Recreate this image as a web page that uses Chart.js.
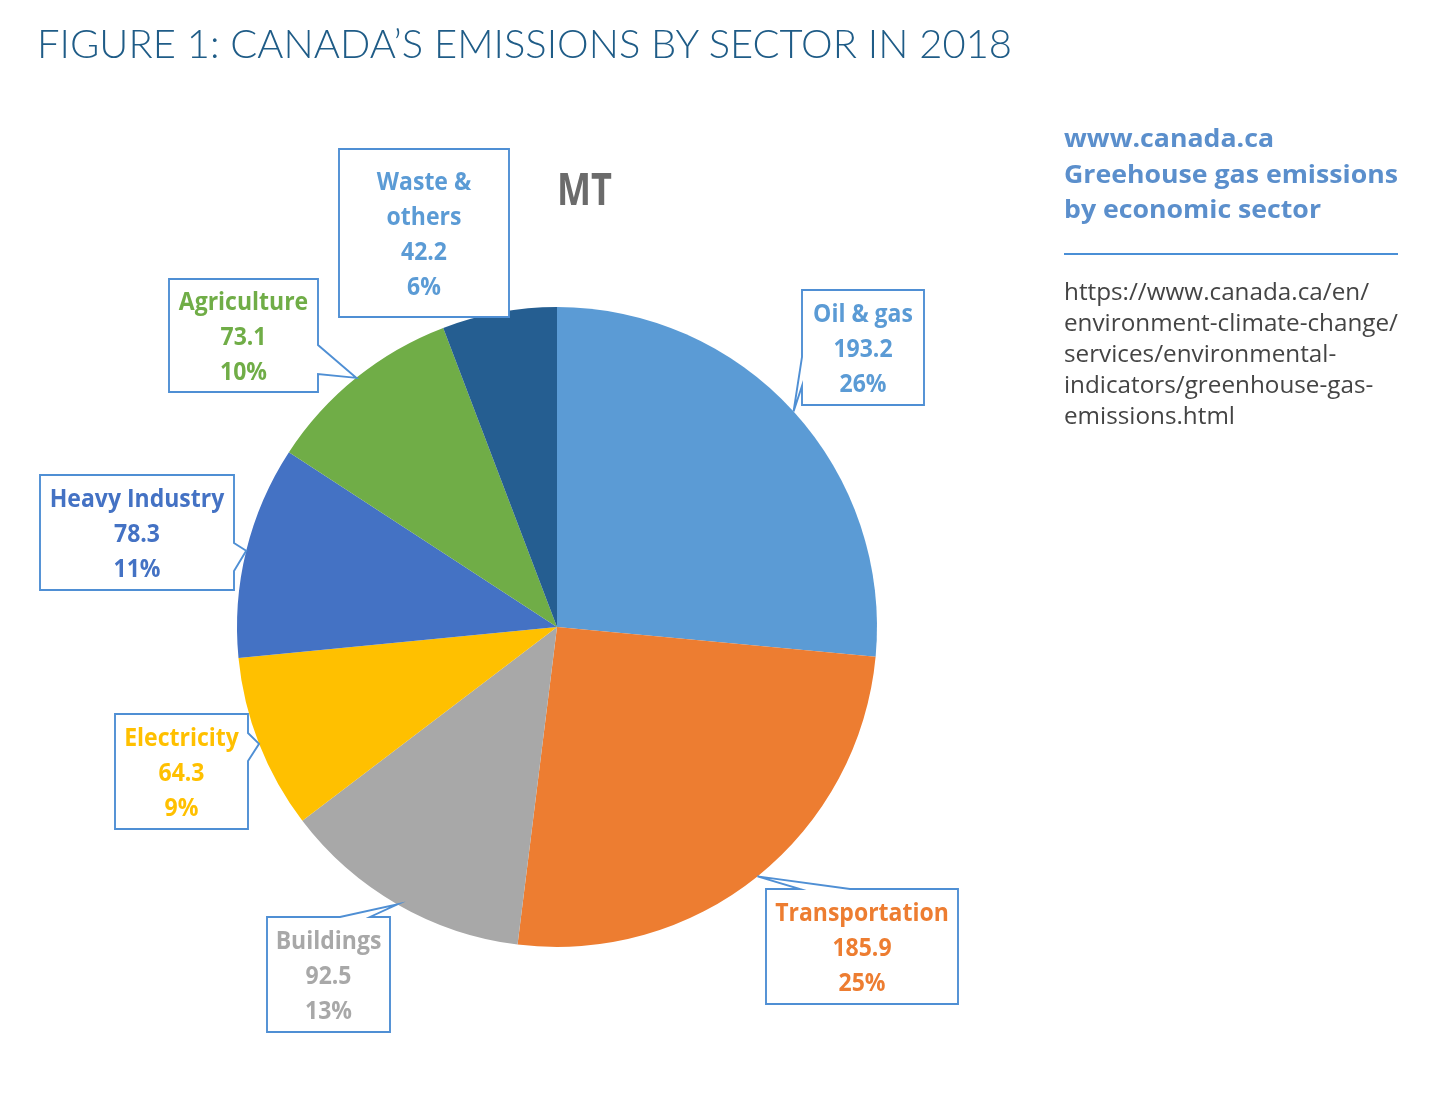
<!DOCTYPE html>
<html><head><meta charset="utf-8">
<script src="https://cdn.jsdelivr.net/npm/chart.js@4.4.1/dist/chart.umd.min.js"></script>
<style>
html,body{margin:0;padding:0;background:#fff;width:1431px;height:1099px;overflow:hidden;}
#wrap{position:relative;width:1431px;height:1099px;}
#c{position:absolute;left:0;top:0;}
.t{position:absolute;white-space:nowrap;transform-origin:0 0;}
#title{left:37px;top:21px;font-family:Lato,'Open Sans',sans-serif;font-weight:300;font-size:39px;color:#1f5c87;line-height:44px;}
#mt{left:557px;top:163px;font-family:'Open Sans',sans-serif;font-weight:700;font-size:44px;color:#6b6b6b;line-height:50px;}
#src{left:1064px;top:120px;font-family:'Open Sans',sans-serif;font-weight:700;font-size:25px;color:#5b8fcc;line-height:35.5px;}
#rule{position:absolute;left:1064px;top:253px;width:334px;height:2px;background:#4a8fd6;}
#url{left:1064px;top:276px;font-family:'Open Sans',sans-serif;font-weight:400;font-size:23px;color:#444;line-height:31px;}
</style></head>
<body><div id="wrap">
<canvas id="c" width="1431" height="1099"></canvas>
<div class="t" id="title">FIGURE 1: CANADA’S EMISSIONS BY SECTOR IN 2018</div>
<div class="t" id="mt">MT</div>
<div class="t" id="src">www.canada.ca<br>Greehouse gas emissions<br>by economic sector</div>
<div id="rule"></div>
<div class="t" id="url">https://www.canada.ca/en/<br>environment-climate-change/<br>services/environmental-<br>indicators/greenhouse-gas-<br>emissions.html</div>
</div>
<script>
// ---- data ----
const sectors = ['Oil & gas','Transportation','Buildings','Electricity','Heavy Industry','Agriculture','Waste & others'];
const labelLines = [['Oil & gas'],['Transportation'],['Buildings'],['Electricity'],['Heavy Industry'],['Agriculture'],['Waste &','others']];
const emissionsMt = [193.2,185.9,92.5,64.3,78.3,73.1,42.2];
const sharePct = ['26%','25%','13%','9%','11%','10%','6%'];

// ---- styles / layout ----
const sliceColors = ['#5b9bd5','#ed7d31','#a8a8a8','#ffc000','#4472c4','#70ad47','#255e91'];
const labelColors = ['#5b9bd5','#ed7d31','#a8a8a8','#ffc000','#4472c4','#70ad47','#5b9bd5'];
const boxLayout = [
  {x:802,y:290,w:122,h:115,side:'left',a:67,b:96},
  {x:766,y:889,w:192,h:115,side:'top',a:34,b:84},
  {x:267,y:917,w:123,h:115,side:'top',a:73,b:103},
  {x:115,y:714,w:133,h:115,side:'right',a:19,b:47},
  {x:40,y:475,w:194,h:115,side:'right',a:68,b:96},
  {x:169,y:279,w:149,h:113,side:'right',a:66,b:95},
  {x:339,y:149,w:170,h:168,side:'none'}
];

const calloutPlugin = {
  id:'callouts',
  afterDatasetsDraw(chart){
    const ctx = chart.ctx;
    const meta = chart.getDatasetMeta(0);
    meta.data.forEach((arc,i)=>{
      const b = boxLayout[i];
      const p = arc.getProps(['x','y','startAngle','endAngle','outerRadius'],true);
      const mid = (p.startAngle+p.endAngle)/2;
      const tx = p.x+Math.cos(mid)*p.outerRadius, ty = p.y+Math.sin(mid)*p.outerRadius;
      const x0=b.x,y0=b.y,x1=b.x+b.w,y1=b.y+b.h;
      ctx.save();
      ctx.beginPath();
      ctx.moveTo(x0,y0);
      if(b.side==='top'){ctx.lineTo(x0+b.a,y0);ctx.lineTo(tx,ty);ctx.lineTo(x0+b.b,y0);}
      ctx.lineTo(x1,y0);
      if(b.side==='right'){ctx.lineTo(x1,y0+b.a);ctx.lineTo(tx,ty);ctx.lineTo(x1,y0+b.b);}
      ctx.lineTo(x1,y1);
      ctx.lineTo(x0,y1);
      if(b.side==='left'){ctx.lineTo(x0,y0+b.b);ctx.lineTo(tx,ty);ctx.lineTo(x0,y0+b.a);}
      ctx.closePath();
      ctx.fillStyle='#ffffff';
      ctx.fill();
      ctx.lineWidth=1.9;
      ctx.strokeStyle='#4f8fd4';
      ctx.lineJoin='miter';
      ctx.stroke();
      const lines=[...labelLines[i], emissionsMt[i].toFixed(1), sharePct[i]];
      const lh=35;
      const cx=(x0+x1)/2, cy=(y0+y1)/2+9;
      const firstBase = cy-(lines.length-1)*lh/2;
      ctx.fillStyle=labelColors[i];
      ctx.font="700 25px 'Open Sans'";
      ctx.textAlign='center';
      ctx.textBaseline='alphabetic';
      lines.forEach((s,k)=>{const w=ctx.measureText(s).width;ctx.fillText(s,cx,firstBase+k*lh,w*0.92);});
      ctx.restore();
    });
  }
};

function start(){
  new Chart(document.getElementById('c'),{
    type:'pie',
    data:{labels:sectors,datasets:[{data:emissionsMt,backgroundColor:sliceColors,borderWidth:0}]},
    options:{
      responsive:false,animation:false,
      layout:{padding:{left:237,top:307,right:554,bottom:152}},
      plugins:{legend:{display:false},tooltip:{enabled:false},title:{display:false}}
    },
    plugins:[calloutPlugin]
  });
  const fit=(id,w)=>{const el=document.getElementById(id);const cw=el.getBoundingClientRect().width;el.style.transform='scaleX('+(w/cw)+')';};
  fit('title',975);
  fit('mt',55);
  fit('src',334);
  fit('url',334);
}
if(document.fonts&&document.fonts.ready){document.fonts.ready.then(start);}else{start();}
</script>
</body></html>
